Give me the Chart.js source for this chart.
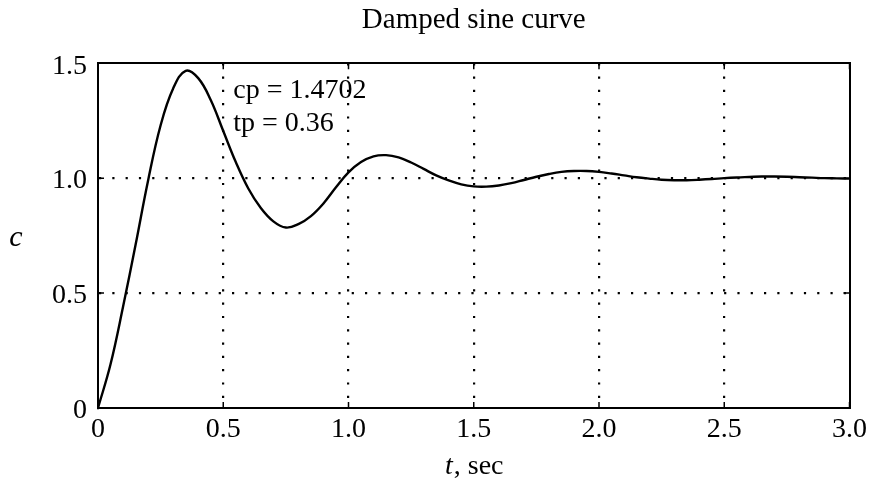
<!DOCTYPE html>
<html>
<head>
<meta charset="utf-8">
<title>Damped sine curve</title>
<script src="https://cdn.jsdelivr.net/npm/chart.js@4"></script>
<style>
  html, body { margin: 0; padding: 0; background: #fff; }
  canvas { display: block; }
</style>
</head>
<body>
<canvas id="chart" width="872" height="488"></canvas>
<script>
// values (t in seconds, response c)
const timeSec = [
  0.00, 0.05, 0.10, 0.15, 0.20, 0.25, 0.30, 0.35, 0.40, 0.45,
  0.50, 0.55, 0.60, 0.65, 0.70, 0.75, 0.80, 0.85, 0.90, 0.95,
  1.00, 1.05, 1.10, 1.15, 1.20, 1.25, 1.30, 1.35, 1.40, 1.45,
  1.50, 1.55, 1.60, 1.65, 1.70, 1.75, 1.80, 1.85, 1.90, 1.95,
  2.00, 2.05, 2.10, 2.15, 2.20, 2.25, 2.30, 2.35, 2.40, 2.45,
  2.50, 2.55, 2.60, 2.65, 2.70, 2.75, 2.80, 2.85, 2.90, 2.95,
  3.00
];
const responseC = [
  0.000, 0.190, 0.440, 0.710, 0.990, 1.230, 1.390, 1.467, 1.435, 1.340,
  1.205, 1.070, 0.955, 0.870, 0.812, 0.785, 0.800, 0.835, 0.890, 0.960,
  1.025, 1.070, 1.095, 1.100, 1.090, 1.068, 1.040, 1.012, 0.990, 0.973,
  0.964, 0.963, 0.968, 0.978, 0.992, 1.006, 1.018, 1.027, 1.031, 1.031,
  1.027, 1.020, 1.012, 1.004, 0.998, 0.993, 0.991, 0.991, 0.993, 0.996,
  1.000, 1.003, 1.005, 1.007, 1.007, 1.006, 1.004, 1.002, 1.000, 0.999,
  0.998
];

const xTickValues = [0, 0.5, 1.0, 1.5, 2.0, 2.5, 3.0];
const xTickLabels = ['0', '0.5', '1.0', '1.5', '2.0', '2.5', '3.0'];
const yTickValues = [0, 0.5, 1.0, 1.5];
const yTickLabels = ['0', '0.5', '1.0', '1.5'];

const chartTitle = 'Damped sine curve';
const annotationLines = ['cp = 1.4702', 'tp = 0.36'];

const SERIF = "'Liberation Serif', 'DejaVu Serif', serif";

// hide the grid line where it sits on the frame
function gridColor(max) {
  return function(ctx) {
    if (!ctx.tick) return '#000';
    return (ctx.tick.value === 0 || ctx.tick.value === max) ? 'rgba(0,0,0,0)' : '#000';
  };
}

// inward tick marks on all four sides, annotation and axis titles
const decorPlugin = {
  id: 'decor',
  afterDraw(chart) {
    const ctx = chart.ctx;
    const a = chart.chartArea;
    const x = chart.scales.x;
    const y = chart.scales.y;

    ctx.save();
    ctx.strokeStyle = '#000';
    ctx.lineWidth = 1.5;
    ctx.beginPath();
    x.ticks.forEach(t => {
      const px = x.getPixelForValue(t.value);
      ctx.moveTo(px, a.bottom); ctx.lineTo(px, a.bottom - 6);
      ctx.moveTo(px, a.top); ctx.lineTo(px, a.top + 6);
    });
    y.ticks.forEach(t => {
      const py = y.getPixelForValue(t.value);
      ctx.moveTo(a.left, py); ctx.lineTo(a.left + 6, py);
      ctx.moveTo(a.right, py); ctx.lineTo(a.right - 6, py);
    });
    ctx.stroke();

    ctx.fillStyle = '#000';
    ctx.textBaseline = 'alphabetic';

    // cp / tp text inside the plot
    ctx.font = '28px ' + SERIF;
    ctx.textAlign = 'left';
    ctx.fillText(annotationLines[0], x.getPixelForValue(0.54), y.getPixelForValue(1.35));
    ctx.fillText(annotationLines[1], x.getPixelForValue(0.54), y.getPixelForValue(1.203));

    // y title: italic c
    ctx.font = 'italic 30px ' + SERIF;
    ctx.textAlign = 'center';
    ctx.fillText('c', 16, (a.top + a.bottom) / 2 + 10);

    // x title: italic t followed by ", sec"
    const italicT = 'italic 28px ' + SERIF;
    const plain = '28px ' + SERIF;
    ctx.font = italicT;
    const wT = ctx.measureText('t').width;
    ctx.font = plain;
    const wRest = ctx.measureText(', sec').width;
    const startX = (a.left + a.right) / 2 - (wT + wRest) / 2;
    ctx.textAlign = 'left';
    ctx.font = italicT;
    ctx.fillText('t', startX, 474);
    ctx.font = plain;
    ctx.fillText(', sec', startX + wT + 1, 474);

    ctx.restore();
  }
};

const tickFont = { family: SERIF, size: 28 };

new Chart(document.getElementById('chart').getContext('2d'), {
  type: 'line',
  data: {
    datasets: [{
      data: timeSec.map((t, i) => ({ x: t, y: responseC[i] })),
      borderColor: '#000',
      borderWidth: 2.4,
      pointRadius: 0,
      tension: 0.4,
      fill: false
    }]
  },
  options: {
    responsive: false,
    animation: false,
    layout: { padding: 0 },
    plugins: {
      legend: { display: false },
      tooltip: { enabled: false },
      title: {
        display: true,
        text: chartTitle,
        fullSize: false,
        color: '#000',
        font: { family: SERIF, size: 29, weight: 'normal' },
        padding: { top: 3, bottom: 0 }
      }
    },
    scales: {
      x: {
        type: 'linear',
        position: 'bottom',
        min: 0,
        max: 3,
        afterBuildTicks: s => { s.ticks = xTickValues.map(v => ({ value: v })); },
        afterFit: s => { s.height = 80; },
        ticks: {
          callback: (v, i) => xTickLabels[i],
          font: tickFont,
          color: '#000',
          padding: 5,
          maxRotation: 0,
          autoSkip: false
        },
        grid: { color: gridColor(3), lineWidth: 2.2, drawTicks: false },
        border: { display: true, color: '#000', width: 2, dash: [2.2, 11.1] }
      },
      y: {
        type: 'linear',
        position: 'left',
        min: 0,
        max: 1.5,
        afterBuildTicks: s => { s.ticks = yTickValues.map(v => ({ value: v })); },
        afterFit: s => { s.width = 98; },
        ticks: {
          callback: (v, i) => yTickLabels[i],
          font: tickFont,
          color: '#000',
          padding: 11,
          labelOffset: 3
        },
        grid: { color: gridColor(1.5), lineWidth: 2.2, drawTicks: false },
        border: { display: true, color: '#000', width: 2, dash: [2.2, 11.1] }
      },
      x2: {
        type: 'linear',
        position: 'top',
        min: 0,
        max: 3,
        afterFit: s => { s.height = 25.4; },
        ticks: { display: false },
        grid: { display: false, drawTicks: false },
        border: { display: true, color: '#000', width: 2 }
      },
      y2: {
        type: 'linear',
        position: 'right',
        min: 0,
        max: 1.5,
        afterFit: s => { s.width = 22; },
        ticks: { display: false },
        grid: { display: false, drawTicks: false },
        border: { display: true, color: '#000', width: 2 }
      }
    }
  },
  plugins: [decorPlugin]
});
</script>
</body>
</html>
